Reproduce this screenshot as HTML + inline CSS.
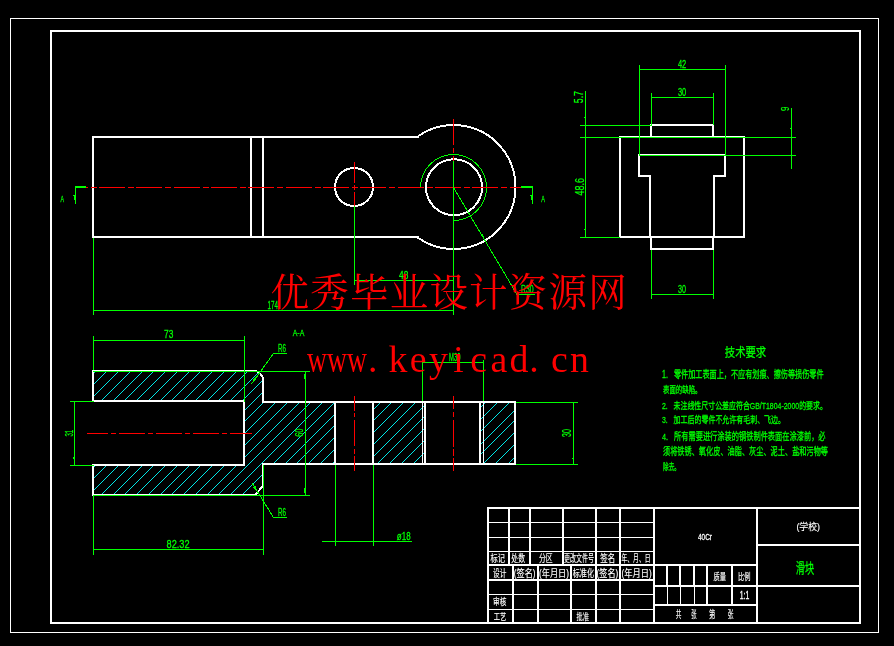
<!DOCTYPE html>
<html><head><meta charset="utf-8"><title>CAD</title>
<style>html,body{margin:0;padding:0;background:#000;overflow:hidden}svg{display:block}text{-webkit-font-smoothing:antialiased}svg{will-change:transform}</style></head>
<body>
<svg width="894" height="646" viewBox="0 0 894 646" shape-rendering="crispEdges">
<rect width="894" height="646" fill="#000"/>
<defs>
<clipPath id="cpA"><path d="M94 372 H254 A8 8 0 0 1 262 380 V403 H334 V463 H262 V486 L255 494 H94 V466 H243 V400 H94 Z"/></clipPath>
<clipPath id="cpB"><path d="M374 403 H424 V463 H374 Z M481 403 H514 V463 H481 Z"/></clipPath>
</defs>
<g clip-path="url(#cpA)" stroke="#0ff" stroke-width="0.9">
<line x1="-68.60" y1="500" x2="71.40" y2="360"/>
<line x1="-56.85" y1="500" x2="83.15" y2="360"/>
<line x1="-45.10" y1="500" x2="94.90" y2="360"/>
<line x1="-33.35" y1="500" x2="106.65" y2="360"/>
<line x1="-21.60" y1="500" x2="118.40" y2="360"/>
<line x1="-9.85" y1="500" x2="130.15" y2="360"/>
<line x1="1.90" y1="500" x2="141.90" y2="360"/>
<line x1="13.65" y1="500" x2="153.65" y2="360"/>
<line x1="25.40" y1="500" x2="165.40" y2="360"/>
<line x1="37.15" y1="500" x2="177.15" y2="360"/>
<line x1="48.90" y1="500" x2="188.90" y2="360"/>
<line x1="60.65" y1="500" x2="200.65" y2="360"/>
<line x1="72.40" y1="500" x2="212.40" y2="360"/>
<line x1="84.15" y1="500" x2="224.15" y2="360"/>
<line x1="95.90" y1="500" x2="235.90" y2="360"/>
<line x1="107.65" y1="500" x2="247.65" y2="360"/>
<line x1="119.40" y1="500" x2="259.40" y2="360"/>
<line x1="131.15" y1="500" x2="271.15" y2="360"/>
<line x1="142.90" y1="500" x2="282.90" y2="360"/>
<line x1="154.65" y1="500" x2="294.65" y2="360"/>
<line x1="166.40" y1="500" x2="306.40" y2="360"/>
<line x1="178.15" y1="500" x2="318.15" y2="360"/>
<line x1="189.90" y1="500" x2="329.90" y2="360"/>
<line x1="201.65" y1="500" x2="341.65" y2="360"/>
<line x1="213.40" y1="500" x2="353.40" y2="360"/>
<line x1="225.15" y1="500" x2="365.15" y2="360"/>
<line x1="236.90" y1="500" x2="376.90" y2="360"/>
<line x1="248.65" y1="500" x2="388.65" y2="360"/>
<line x1="260.40" y1="500" x2="400.40" y2="360"/>
<line x1="272.15" y1="500" x2="412.15" y2="360"/>
<line x1="283.90" y1="500" x2="423.90" y2="360"/>
<line x1="295.65" y1="500" x2="435.65" y2="360"/>
<line x1="307.40" y1="500" x2="447.40" y2="360"/>
<line x1="319.15" y1="500" x2="459.15" y2="360"/>
<line x1="330.90" y1="500" x2="470.90" y2="360"/>
<line x1="342.65" y1="500" x2="482.65" y2="360"/>
</g>
<g clip-path="url(#cpB)" stroke="#0ff" stroke-width="0.9">
<line x1="212.00" y1="500" x2="352.00" y2="360"/>
<line x1="223.75" y1="500" x2="363.75" y2="360"/>
<line x1="235.50" y1="500" x2="375.50" y2="360"/>
<line x1="247.25" y1="500" x2="387.25" y2="360"/>
<line x1="259.00" y1="500" x2="399.00" y2="360"/>
<line x1="270.75" y1="500" x2="410.75" y2="360"/>
<line x1="282.50" y1="500" x2="422.50" y2="360"/>
<line x1="294.25" y1="500" x2="434.25" y2="360"/>
<line x1="306.00" y1="500" x2="446.00" y2="360"/>
<line x1="317.75" y1="500" x2="457.75" y2="360"/>
<line x1="329.50" y1="500" x2="469.50" y2="360"/>
<line x1="341.25" y1="500" x2="481.25" y2="360"/>
<line x1="353.00" y1="500" x2="493.00" y2="360"/>
<line x1="364.75" y1="500" x2="504.75" y2="360"/>
<line x1="376.50" y1="500" x2="516.50" y2="360"/>
<line x1="388.25" y1="500" x2="528.25" y2="360"/>
<line x1="400.00" y1="500" x2="540.00" y2="360"/>
<line x1="411.75" y1="500" x2="551.75" y2="360"/>
<line x1="423.50" y1="500" x2="563.50" y2="360"/>
<line x1="435.25" y1="500" x2="575.25" y2="360"/>
<line x1="447.00" y1="500" x2="587.00" y2="360"/>
<line x1="458.75" y1="500" x2="598.75" y2="360"/>
<line x1="470.50" y1="500" x2="610.50" y2="360"/>
<line x1="482.25" y1="500" x2="622.25" y2="360"/>
<line x1="494.00" y1="500" x2="634.00" y2="360"/>
<line x1="505.75" y1="500" x2="645.75" y2="360"/>
<line x1="517.50" y1="500" x2="657.50" y2="360"/>
<line x1="529.25" y1="500" x2="669.25" y2="360"/>
</g>
<rect x="10" y="18" width="869" height="1" fill="#fff"/>
<rect x="10" y="632" width="869" height="1" fill="#fff"/>
<rect x="10" y="18" width="1" height="615" fill="#fff"/>
<rect x="878" y="18" width="1" height="615" fill="#fff"/>
<rect x="50" y="30" width="811" height="2" fill="#fff"/>
<rect x="50" y="622" width="811" height="2" fill="#fff"/>
<rect x="50" y="30" width="2" height="594" fill="#fff"/>
<rect x="859" y="30" width="2" height="594" fill="#fff"/>
<rect x="92" y="136" width="327" height="2" fill="#fff"/>
<rect x="92" y="236" width="327" height="2" fill="#fff"/>
<rect x="92" y="136" width="2" height="102" fill="#fff"/>
<rect x="250" y="136" width="2" height="102" fill="#fff"/>
<rect x="262" y="136" width="2" height="102" fill="#fff"/>
<path d="M418 136.2 A62 62 0 1 1 418 237.8" fill="none" stroke="#fff" stroke-width="2"/>
<circle cx="354" cy="187" r="19" fill="none" stroke="#fff" stroke-width="2"/>
<circle cx="454" cy="187.2" r="28" fill="none" stroke="#fff" stroke-width="2"/>
<path d="M420.5 187.5 A33 33 0 1 1 453.5 220.5" fill="none" stroke="#0f0" stroke-width="1"/>
<rect x="619" y="136" width="126" height="2" fill="#fff"/>
<rect x="619" y="236" width="126" height="2" fill="#fff"/>
<rect x="619" y="136" width="2" height="102" fill="#fff"/>
<rect x="743" y="136" width="2" height="102" fill="#fff"/>
<rect x="650" y="124" width="64" height="2" fill="#fff"/>
<rect x="650" y="124" width="2" height="14" fill="#fff"/>
<rect x="712" y="124" width="2" height="14" fill="#fff"/>
<rect x="638" y="154" width="88" height="2" fill="#fff"/>
<rect x="638" y="154" width="2" height="23" fill="#fff"/>
<rect x="724" y="154" width="2" height="23" fill="#fff"/>
<rect x="638" y="175" width="13" height="2" fill="#fff"/>
<rect x="713" y="175" width="13" height="2" fill="#fff"/>
<rect x="649" y="175" width="2" height="63" fill="#fff"/>
<rect x="713" y="175" width="2" height="63" fill="#fff"/>
<rect x="650" y="237" width="2" height="13" fill="#fff"/>
<rect x="712" y="237" width="2" height="13" fill="#fff"/>
<rect x="650" y="248" width="64" height="2" fill="#fff"/>
<rect x="92" y="370" width="163" height="2" fill="#fff"/>
<rect x="92" y="400" width="153" height="2" fill="#fff"/>
<rect x="92" y="464" width="153" height="2" fill="#fff"/>
<rect x="92" y="494" width="164" height="2" fill="#fff"/>
<rect x="92" y="370" width="2" height="32" fill="#fff"/>
<rect x="92" y="464" width="2" height="32" fill="#fff"/>
<rect x="243" y="400" width="2" height="66" fill="#fff"/>
<path d="M254 371 A9 9 0 0 1 263 380" fill="none" stroke="#fff" stroke-width="2"/>
<path d="M255 495 L263 486" fill="none" stroke="#fff" stroke-width="2"/>
<rect x="262" y="380" width="2" height="23" fill="#fff"/>
<rect x="262" y="463" width="2" height="24" fill="#fff"/>
<rect x="262" y="401" width="254" height="2" fill="#fff"/>
<rect x="262" y="463" width="254" height="2" fill="#fff"/>
<rect x="514" y="401" width="2" height="64" fill="#fff"/>
<rect x="334" y="401" width="2" height="64" fill="#fff"/>
<rect x="372" y="401" width="2" height="64" fill="#fff"/>
<rect x="422" y="401" width="1" height="64" fill="#fff"/>
<rect x="424" y="401" width="2" height="64" fill="#fff"/>
<rect x="479" y="401" width="2" height="64" fill="#fff"/>
<rect x="483" y="401" width="1" height="64" fill="#fff"/>
<rect x="86" y="187" width="2" height="1" fill="#f00"/>
<rect x="91" y="187" width="6" height="1" fill="#f00"/>
<rect x="99" y="187" width="26" height="1" fill="#f00"/>
<rect x="128" y="187" width="6" height="1" fill="#f00"/>
<rect x="136" y="187" width="26" height="1" fill="#f00"/>
<rect x="165" y="187" width="6" height="1" fill="#f00"/>
<rect x="174" y="187" width="26" height="1" fill="#f00"/>
<rect x="203" y="187" width="6" height="1" fill="#f00"/>
<rect x="211" y="187" width="26" height="1" fill="#f00"/>
<rect x="240" y="187" width="6" height="1" fill="#f00"/>
<rect x="248" y="187" width="26" height="1" fill="#f00"/>
<rect x="277" y="187" width="6" height="1" fill="#f00"/>
<rect x="286" y="187" width="26" height="1" fill="#f00"/>
<rect x="315" y="187" width="6" height="1" fill="#f00"/>
<rect x="323" y="187" width="26" height="1" fill="#f00"/>
<rect x="352" y="187" width="6" height="1" fill="#f00"/>
<rect x="360" y="187" width="26" height="1" fill="#f00"/>
<rect x="389" y="187" width="6" height="1" fill="#f00"/>
<rect x="398" y="187" width="26" height="1" fill="#f00"/>
<rect x="427" y="187" width="6" height="1" fill="#f00"/>
<rect x="435" y="187" width="26" height="1" fill="#f00"/>
<rect x="464" y="187" width="6" height="1" fill="#f00"/>
<rect x="472" y="187" width="26" height="1" fill="#f00"/>
<rect x="501" y="187" width="6" height="1" fill="#f00"/>
<rect x="510" y="187" width="11" height="1" fill="#f00"/>
<rect x="354" y="162" width="1" height="21" fill="#f00"/>
<rect x="354" y="185" width="1" height="5" fill="#f00"/>
<rect x="354" y="192" width="1" height="14" fill="#f00"/>
<rect x="453" y="119" width="1" height="26" fill="#f00"/>
<rect x="453" y="148" width="1" height="5" fill="#f00"/>
<rect x="453" y="156" width="1" height="6" fill="#f00"/>
<rect x="87" y="433" width="21" height="1" fill="#f00"/>
<rect x="111" y="433" width="5" height="1" fill="#f00"/>
<rect x="119" y="433" width="26" height="1" fill="#f00"/>
<rect x="148" y="433" width="5" height="1" fill="#f00"/>
<rect x="156" y="433" width="26" height="1" fill="#f00"/>
<rect x="185" y="433" width="5" height="1" fill="#f00"/>
<rect x="193" y="433" width="26" height="1" fill="#f00"/>
<rect x="222" y="433" width="5" height="1" fill="#f00"/>
<rect x="230" y="433" width="22" height="1" fill="#f00"/>
<rect x="354" y="396" width="1" height="15" fill="#f00"/>
<rect x="354" y="413" width="1" height="4" fill="#f00"/>
<rect x="354" y="420" width="1" height="26" fill="#f00"/>
<rect x="354" y="449" width="1" height="5" fill="#f00"/>
<rect x="354" y="456" width="1" height="15" fill="#f00"/>
<rect x="453" y="396" width="1" height="13" fill="#f00"/>
<rect x="453" y="412" width="1" height="5" fill="#f00"/>
<rect x="453" y="420" width="1" height="27" fill="#f00"/>
<rect x="453" y="449" width="1" height="7" fill="#f00"/>
<rect x="453" y="458" width="1" height="13" fill="#f00"/>
<rect x="75" y="186" width="11" height="2" fill="#0f0"/>
<rect x="75" y="186" width="1" height="18" fill="#0f0"/>
<rect x="74" y="195" width="1" height="5" fill="#0f0"/>
<rect x="73" y="195" width="1" height="1" fill="#0f0"/>
<rect x="521" y="186" width="12" height="2" fill="#0f0"/>
<rect x="532" y="186" width="1" height="18" fill="#0f0"/>
<rect x="531" y="195" width="1" height="5" fill="#0f0"/>
<rect x="530" y="195" width="1" height="1" fill="#0f0"/>
<text x="60.5" y="201.5" font-size="9.29" fill="#0f0" font-family='"Liberation Sans", sans-serif' font-weight="normal" stroke="#0f0" stroke-width="0.3" textLength="3.5" lengthAdjust="spacingAndGlyphs" >A</text>
<text x="541.3" y="201.5" font-size="9.29" fill="#0f0" font-family='"Liberation Sans", sans-serif' font-weight="normal" stroke="#0f0" stroke-width="0.3" textLength="3.7" lengthAdjust="spacingAndGlyphs" >A</text>
<rect x="93" y="238" width="1" height="77" fill="#0f0"/>
<rect x="93" y="310" width="361" height="1" fill="#0f0"/>
<rect x="354" y="206" width="1" height="79" fill="#0f0"/>
<rect x="453" y="161" width="1" height="154" fill="#0f0"/>
<rect x="354" y="280" width="100" height="1" fill="#0f0"/>
<text x="399.0" y="279.3" font-size="10.43" fill="#0f0" font-family='"Liberation Sans", sans-serif' font-weight="normal" stroke="#0f0" stroke-width="0.3" textLength="9.3" lengthAdjust="spacingAndGlyphs" >48</text>
<text x="267.6" y="309.3" font-size="10.43" fill="#0f0" font-family='"Liberation Sans", sans-serif' font-weight="normal" stroke="#0f0" stroke-width="0.3" textLength="10.4" lengthAdjust="spacingAndGlyphs" >174</text>
<line x1="453.5" y1="187.5" x2="517" y2="294.5" stroke="#0f0" stroke-width="1" />
<rect x="517" y="294" width="18" height="1" fill="#0f0"/>
<polygon points="484.3,239.0 480.3,235.0 482.7,233.6" fill="#0f0"/>
<text x="521.0" y="293.0" font-size="10.43" fill="#0f0" font-family='"Liberation Sans", sans-serif' font-weight="normal" stroke="#0f0" stroke-width="0.3" textLength="12.7" lengthAdjust="spacingAndGlyphs" >R30</text>
<rect x="93" y="336" width="1" height="34" fill="#0f0"/>
<rect x="244" y="336" width="1" height="66" fill="#0f0"/>
<rect x="93" y="340" width="152" height="1" fill="#0f0"/>
<text x="164.0" y="337.8" font-size="10.71" fill="#0f0" font-family='"Liberation Sans", sans-serif' font-weight="normal" stroke="#0f0" stroke-width="0.3" textLength="9.3" lengthAdjust="spacingAndGlyphs" >73</text>
<rect x="93" y="371" width="217" height="1" fill="#0f0"/>
<rect x="93" y="495" width="217" height="1" fill="#0f0"/>
<rect x="305" y="371" width="1" height="125" fill="#0f0"/>
<rect x="304" y="374" width="1" height="5" fill="#0f0"/>
<rect x="304" y="488" width="1" height="5" fill="#0f0"/>
<text transform="translate(303.0,436.8) rotate(-90)" font-size="11.43" fill="#0f0" font-family='"Liberation Sans", sans-serif' font-weight="normal" stroke="#0f0" stroke-width="0.3" textLength="8.2" lengthAdjust="spacingAndGlyphs" >60</text>
<rect x="73" y="457" width="1" height="1" fill="#0f0"/>
<rect x="73" y="458" width="1" height="1" fill="#0f0"/>
<rect x="74" y="401" width="1" height="65" fill="#0f0"/>
<rect x="70" y="401" width="24" height="1" fill="#0f0"/>
<rect x="70" y="465" width="24" height="1" fill="#0f0"/>
<text transform="translate(72.5,436.5) rotate(-90)" font-size="10.71" fill="#0f0" font-family='"Liberation Sans", sans-serif' font-weight="normal" stroke="#0f0" stroke-width="0.3" textLength="6.7" lengthAdjust="spacingAndGlyphs" >31</text>
<rect x="93" y="496" width="1" height="59" fill="#0f0"/>
<rect x="263" y="465" width="1" height="90" fill="#0f0"/>
<rect x="93" y="549" width="171" height="1" fill="#0f0"/>
<text x="166.5" y="547.7" font-size="11.43" fill="#0f0" font-family='"Liberation Sans", sans-serif' font-weight="normal" stroke="#0f0" stroke-width="0.3" textLength="23.1" lengthAdjust="spacingAndGlyphs" >82.32</text>
<rect x="335" y="465" width="1" height="81" fill="#0f0"/>
<rect x="373" y="465" width="1" height="81" fill="#0f0"/>
<rect x="322" y="541" width="90" height="1" fill="#0f0"/>
<text x="396.8" y="540.3" font-size="11.43" fill="#0f0" font-family='"Liberation Sans", sans-serif' font-weight="normal" stroke="#0f0" stroke-width="0.3" textLength="13.8" lengthAdjust="spacingAndGlyphs" >ø18</text>
<rect x="422" y="360" width="1" height="41" fill="#0f0"/>
<rect x="483" y="360" width="1" height="41" fill="#0f0"/>
<rect x="422" y="362" width="62" height="1" fill="#0f0"/>
<text x="449.0" y="360.6" font-size="10.29" fill="#0f0" font-family='"Liberation Sans", sans-serif' font-weight="normal" stroke="#0f0" stroke-width="0.3" textLength="11.4" lengthAdjust="spacingAndGlyphs" >M30</text>
<rect x="516" y="402" width="62" height="1" fill="#0f0"/>
<rect x="516" y="464" width="62" height="1" fill="#0f0"/>
<rect x="573" y="402" width="1" height="63" fill="#0f0"/>
<rect x="572" y="458" width="1" height="1" fill="#0f0"/>
<text transform="translate(571.3,437.0) rotate(-90)" font-size="12.14" fill="#0f0" font-family='"Liberation Sans", sans-serif' font-weight="normal" stroke="#0f0" stroke-width="0.3" textLength="7.9" lengthAdjust="spacingAndGlyphs" >30</text>
<rect x="273" y="353" width="14" height="1" fill="#0f0"/>
<line x1="273.5" y1="353.5" x2="251.5" y2="384" stroke="#0f0" stroke-width="1" />
<polygon points="257.5,375.5 255.1,381.2 252.9,379.6" fill="#0f0"/>
<text x="278.0" y="351.9" font-size="11.00" fill="#0f0" font-family='"Liberation Sans", sans-serif' font-weight="normal" stroke="#0f0" stroke-width="0.3" textLength="8.0" lengthAdjust="spacingAndGlyphs" >R6</text>
<rect x="273" y="517" width="14" height="1" fill="#0f0"/>
<line x1="273.5" y1="517.5" x2="251.8" y2="482.5" stroke="#0f0" stroke-width="1" />
<polygon points="257.5,492.0 253.1,487.6 255.5,486.2" fill="#0f0"/>
<text x="278.0" y="515.8" font-size="11.14" fill="#0f0" font-family='"Liberation Sans", sans-serif' font-weight="normal" stroke="#0f0" stroke-width="0.3" textLength="8.0" lengthAdjust="spacingAndGlyphs" >R6</text>
<text x="292.7" y="336.2" font-size="9.71" fill="#0f0" font-family='"Liberation Sans", sans-serif' font-weight="normal" stroke="#0f0" stroke-width="0.3" textLength="11.6" lengthAdjust="spacingAndGlyphs" >A-A</text>
<rect x="639" y="65" width="1" height="91" fill="#0f0"/>
<rect x="725" y="65" width="1" height="91" fill="#0f0"/>
<rect x="639" y="69" width="87" height="1" fill="#0f0"/>
<text x="677.9" y="68.0" font-size="10.71" fill="#0f0" font-family='"Liberation Sans", sans-serif' font-weight="normal" stroke="#0f0" stroke-width="0.3" textLength="8.3" lengthAdjust="spacingAndGlyphs" >42</text>
<rect x="651" y="93" width="1" height="32" fill="#0f0"/>
<rect x="713" y="93" width="1" height="32" fill="#0f0"/>
<rect x="651" y="97" width="63" height="1" fill="#0f0"/>
<text x="677.9" y="96.4" font-size="10.71" fill="#0f0" font-family='"Liberation Sans", sans-serif' font-weight="normal" stroke="#0f0" stroke-width="0.3" textLength="8.3" lengthAdjust="spacingAndGlyphs" >30</text>
<rect x="585" y="91" width="1" height="147" fill="#0f0"/>
<rect x="580" y="125" width="72" height="1" fill="#0f0"/>
<rect x="580" y="137" width="216" height="1" fill="#0f0"/>
<rect x="639" y="155" width="157" height="1" fill="#0f0"/>
<rect x="580" y="237" width="40" height="1" fill="#0f0"/>
<rect x="584" y="117" width="1" height="1" fill="#0f0"/>
<rect x="584" y="229" width="1" height="1" fill="#0f0"/>
<rect x="791" y="108" width="1" height="61" fill="#0f0"/>
<rect x="790" y="128" width="1" height="1" fill="#0f0"/>
<text transform="translate(583.2,103.2) rotate(-90)" font-size="12.00" fill="#0f0" font-family='"Liberation Sans", sans-serif' font-weight="normal" stroke="#0f0" stroke-width="0.3" textLength="12.2" lengthAdjust="spacingAndGlyphs" >5.7</text>
<text transform="translate(583.8,195.5) rotate(-90)" font-size="12.57" fill="#0f0" font-family='"Liberation Sans", sans-serif' font-weight="normal" stroke="#0f0" stroke-width="0.3" textLength="17.5" lengthAdjust="spacingAndGlyphs" >48.6</text>
<text transform="translate(789.0,111.1) rotate(-90)" font-size="11.71" fill="#0f0" font-family='"Liberation Sans", sans-serif' font-weight="normal" stroke="#0f0" stroke-width="0.3" textLength="4.4" lengthAdjust="spacingAndGlyphs" >9</text>
<rect x="651" y="250" width="1" height="49" fill="#0f0"/>
<rect x="713" y="250" width="1" height="49" fill="#0f0"/>
<rect x="651" y="294" width="63" height="1" fill="#0f0"/>
<text x="678.0" y="293.0" font-size="10.86" fill="#0f0" font-family='"Liberation Sans", sans-serif' font-weight="normal" stroke="#0f0" stroke-width="0.3" textLength="8.0" lengthAdjust="spacingAndGlyphs" >30</text>
<rect x="487" y="507" width="374" height="2" fill="#fff"/>
<rect x="487" y="507" width="2" height="116" fill="#fff"/>
<rect x="487" y="522" width="168" height="1" fill="#fff"/>
<rect x="487" y="537" width="168" height="1" fill="#fff"/>
<rect x="487" y="551" width="168" height="1" fill="#fff"/>
<rect x="487" y="564" width="271" height="2" fill="#fff"/>
<rect x="508" y="507" width="2" height="59" fill="#fff"/>
<rect x="529" y="507" width="2" height="59" fill="#fff"/>
<rect x="562" y="507" width="2" height="59" fill="#fff"/>
<rect x="595" y="507" width="2" height="59" fill="#fff"/>
<rect x="619" y="507" width="2" height="59" fill="#fff"/>
<rect x="487" y="579" width="168" height="2" fill="#fff"/>
<rect x="487" y="594" width="168" height="1" fill="#fff"/>
<rect x="487" y="609" width="168" height="1" fill="#fff"/>
<rect x="512" y="565" width="2" height="58" fill="#fff"/>
<rect x="537" y="565" width="2" height="58" fill="#fff"/>
<rect x="570" y="565" width="2" height="58" fill="#fff"/>
<rect x="595" y="565" width="2" height="58" fill="#fff"/>
<rect x="619" y="565" width="2" height="58" fill="#fff"/>
<rect x="653" y="507" width="2" height="116" fill="#fff"/>
<rect x="756" y="507" width="2" height="116" fill="#fff"/>
<rect x="653" y="585" width="208" height="2" fill="#fff"/>
<rect x="653" y="604" width="105" height="2" fill="#fff"/>
<rect x="756" y="544" width="105" height="2" fill="#fff"/>
<rect x="666" y="565" width="2" height="21" fill="#fff"/>
<rect x="679" y="565" width="2" height="21" fill="#fff"/>
<rect x="693" y="565" width="2" height="21" fill="#fff"/>
<rect x="706" y="565" width="2" height="21" fill="#fff"/>
<rect x="731" y="565" width="2" height="21" fill="#fff"/>
<rect x="667" y="586" width="1" height="19" fill="#fff"/>
<rect x="680" y="586" width="1" height="19" fill="#fff"/>
<rect x="694" y="586" width="1" height="19" fill="#fff"/>
<rect x="706" y="586" width="2" height="19" fill="#fff"/>
<rect x="731" y="586" width="2" height="19" fill="#fff"/>
<text x="490.5" y="562.1" font-size="9.78" fill="#fff" font-family='"Liberation Sans", "Noto Sans CJK SC", sans-serif' font-weight="normal" stroke="#fff" stroke-width="0.15" textLength="14.5" lengthAdjust="spacingAndGlyphs">标记</text>
<text x="511.3" y="562.1" font-size="9.78" fill="#fff" font-family='"Liberation Sans", "Noto Sans CJK SC", sans-serif' font-weight="normal" stroke="#fff" stroke-width="0.15" textLength="13.7" lengthAdjust="spacingAndGlyphs">处数</text>
<text x="539.0" y="562.1" font-size="9.78" fill="#fff" font-family='"Liberation Sans", "Noto Sans CJK SC", sans-serif' font-weight="normal" stroke="#fff" stroke-width="0.15" textLength="13.7" lengthAdjust="spacingAndGlyphs">分区</text>
<text x="564.0" y="562.1" font-size="9.78" fill="#fff" font-family='"Liberation Sans", "Noto Sans CJK SC", sans-serif' font-weight="normal" stroke="#fff" stroke-width="0.15" textLength="30.0" lengthAdjust="spacingAndGlyphs">更改文件号</text>
<text x="600.3" y="562.1" font-size="9.78" fill="#fff" font-family='"Liberation Sans", "Noto Sans CJK SC", sans-serif' font-weight="normal" stroke="#fff" stroke-width="0.15" textLength="15.0" lengthAdjust="spacingAndGlyphs">签名</text>
<text x="621.6" y="562.1" font-size="9.78" fill="#fff" font-family='"Liberation Sans", "Noto Sans CJK SC", sans-serif' font-weight="normal" stroke="#fff" stroke-width="0.15" textLength="28.8" lengthAdjust="spacingAndGlyphs">年、月、日</text>
<text x="493.0" y="576.6" font-size="10.00" fill="#fff" font-family='"Liberation Sans", "Noto Sans CJK SC", sans-serif' font-weight="normal" stroke="#fff" stroke-width="0.15" textLength="13.3" lengthAdjust="spacingAndGlyphs">设计</text>
<text x="513.8" y="576.6" font-size="10.00" fill="#fff" font-family='"Liberation Sans", "Noto Sans CJK SC", sans-serif' font-weight="normal" stroke="#fff" stroke-width="0.15" textLength="21.8" lengthAdjust="spacingAndGlyphs">(签名)</text>
<text x="539.0" y="576.6" font-size="10.00" fill="#fff" font-family='"Liberation Sans", "Noto Sans CJK SC", sans-serif' font-weight="normal" stroke="#fff" stroke-width="0.15" textLength="30.0" lengthAdjust="spacingAndGlyphs">(年月日)</text>
<text x="572.7" y="576.6" font-size="10.00" fill="#fff" font-family='"Liberation Sans", "Noto Sans CJK SC", sans-serif' font-weight="normal" stroke="#fff" stroke-width="0.15" textLength="21.3" lengthAdjust="spacingAndGlyphs">标准化</text>
<text x="596.5" y="576.6" font-size="10.00" fill="#fff" font-family='"Liberation Sans", "Noto Sans CJK SC", sans-serif' font-weight="normal" stroke="#fff" stroke-width="0.15" textLength="21.8" lengthAdjust="spacingAndGlyphs">(签名)</text>
<text x="621.6" y="576.6" font-size="10.00" fill="#fff" font-family='"Liberation Sans", "Noto Sans CJK SC", sans-serif' font-weight="normal" stroke="#fff" stroke-width="0.15" textLength="30.1" lengthAdjust="spacingAndGlyphs">(年月日)</text>
<text x="493.0" y="605.2" font-size="9.56" fill="#fff" font-family='"Liberation Sans", "Noto Sans CJK SC", sans-serif' font-weight="normal" stroke="#fff" stroke-width="0.15" textLength="13.3" lengthAdjust="spacingAndGlyphs">审核</text>
<text x="493.8" y="619.8" font-size="8.89" fill="#fff" font-family='"Liberation Sans", "Noto Sans CJK SC", sans-serif' font-weight="normal" stroke="#fff" stroke-width="0.15" textLength="12.5" lengthAdjust="spacingAndGlyphs">工艺</text>
<text x="576.5" y="619.8" font-size="8.89" fill="#fff" font-family='"Liberation Sans", "Noto Sans CJK SC", sans-serif' font-weight="normal" stroke="#fff" stroke-width="0.15" textLength="12.5" lengthAdjust="spacingAndGlyphs">批准</text>
<text x="675.8" y="618.4" font-size="9.78" fill="#fff" font-family='"Liberation Sans", "Noto Sans CJK SC", sans-serif' font-weight="normal" stroke="#fff" stroke-width="0.15" textLength="5.6" lengthAdjust="spacingAndGlyphs">共</text>
<text x="691.2" y="618.4" font-size="9.78" fill="#fff" font-family='"Liberation Sans", "Noto Sans CJK SC", sans-serif' font-weight="normal" stroke="#fff" stroke-width="0.15" textLength="5.3" lengthAdjust="spacingAndGlyphs">张</text>
<text x="709.0" y="618.4" font-size="9.78" fill="#fff" font-family='"Liberation Sans", "Noto Sans CJK SC", sans-serif' font-weight="normal" stroke="#fff" stroke-width="0.15" textLength="6.3" lengthAdjust="spacingAndGlyphs">第</text>
<text x="727.8" y="618.4" font-size="9.78" fill="#fff" font-family='"Liberation Sans", "Noto Sans CJK SC", sans-serif' font-weight="normal" stroke="#fff" stroke-width="0.15" textLength="5.7" lengthAdjust="spacingAndGlyphs">张</text>
<text x="713.4" y="580.2" font-size="9.00" fill="#fff" font-family='"Liberation Sans", "Noto Sans CJK SC", sans-serif' font-weight="normal" stroke="#fff" stroke-width="0.15" textLength="12.6" lengthAdjust="spacingAndGlyphs">质量</text>
<text x="737.9" y="580.2" font-size="9.00" fill="#fff" font-family='"Liberation Sans", "Noto Sans CJK SC", sans-serif' font-weight="normal" stroke="#fff" stroke-width="0.15" textLength="12.5" lengthAdjust="spacingAndGlyphs">比例</text>
<text x="739.7" y="599.0" font-size="10.00" fill="#fff" font-family='"Liberation Sans", sans-serif' font-weight="normal" stroke="#fff" stroke-width="0.3" textLength="9.5" lengthAdjust="spacingAndGlyphs" >1:1</text>
<text x="698.0" y="540.0" font-size="9.71" fill="#fff" font-family='"Liberation Sans", sans-serif' font-weight="normal" stroke="#fff" stroke-width="0.3" textLength="14.0" lengthAdjust="spacingAndGlyphs" >40Cr</text>
<text x="796.4" y="529.9" font-size="9.44" fill="#fff" font-family='"Liberation Sans", "Noto Sans CJK SC", sans-serif' font-weight="normal" stroke="#fff" stroke-width="0.15" textLength="23.6" lengthAdjust="spacingAndGlyphs">(学校)</text>
<text x="795.8" y="572.5" font-size="13.67" fill="#0f0" font-family='"Liberation Sans", "Noto Sans CJK SC", sans-serif' font-weight="normal" stroke="#0f0" stroke-width="0.3" textLength="18.3" lengthAdjust="spacingAndGlyphs">滑块</text>
<text x="724.8" y="357.3" font-size="12.22" fill="#0f0" font-family='"Liberation Sans", "Noto Sans CJK SC", sans-serif' font-weight="normal" stroke="#0f0" stroke-width="0.3" textLength="41.4" lengthAdjust="spacingAndGlyphs">技术要求</text>
<text x="662.0" y="377.6" font-size="10.33" fill="#0f0" font-family='"Liberation Sans", "Noto Sans CJK SC", sans-serif' font-weight="normal" stroke="#0f0" stroke-width="0.3" textLength="161.6" lengthAdjust="spacingAndGlyphs">1.&#160;&#160; 零件加工表面上，不应有划痕、擦伤等损伤零件</text>
<text x="663.0" y="393.4" font-size="9.22" fill="#0f0" font-family='"Liberation Sans", "Noto Sans CJK SC", sans-serif' font-weight="normal" stroke="#0f0" stroke-width="0.3" textLength="38.5" lengthAdjust="spacingAndGlyphs">表面的缺陷。</text>
<text x="662.0" y="408.9" font-size="9.44" fill="#0f0" font-family='"Liberation Sans", "Noto Sans CJK SC", sans-serif' font-weight="normal" stroke="#0f0" stroke-width="0.3" textLength="164.9" lengthAdjust="spacingAndGlyphs">2.&#160;&#160; 未注线性尺寸公差应符合GB/T1804-2000的要求。</text>
<text x="662.0" y="423.4" font-size="9.67" fill="#0f0" font-family='"Liberation Sans", "Noto Sans CJK SC", sans-serif' font-weight="normal" stroke="#0f0" stroke-width="0.3" textLength="123.0" lengthAdjust="spacingAndGlyphs">3.&#160;&#160; 加工后的零件不允许有毛刺、飞边。</text>
<text x="662.0" y="439.8" font-size="9.78" fill="#0f0" font-family='"Liberation Sans", "Noto Sans CJK SC", sans-serif' font-weight="normal" stroke="#0f0" stroke-width="0.3" textLength="163.6" lengthAdjust="spacingAndGlyphs">4.&#160;&#160; 所有需要进行涂装的钢铁制件表面在涂漆前，必</text>
<text x="663.0" y="454.8" font-size="9.78" fill="#0f0" font-family='"Liberation Sans", "Noto Sans CJK SC", sans-serif' font-weight="normal" stroke="#0f0" stroke-width="0.3" textLength="165.0" lengthAdjust="spacingAndGlyphs">须将铁锈、氧化皮、油脂、灰尘、泥土、盐和污物等</text>
<text x="663.0" y="470.0" font-size="9.00" fill="#0f0" font-family='"Liberation Sans", "Noto Sans CJK SC", sans-serif' font-weight="normal" stroke="#0f0" stroke-width="0.3" textLength="17.0" lengthAdjust="spacingAndGlyphs">除去。</text>
<text x="270.6" y="305.7" font-size="38.5" letter-spacing="1.2" fill="#f00" font-family='"Liberation Serif", "Noto Serif CJK SC", serif'>优秀毕业设计资源网</text>
<text y="372.2" font-size="37.8" fill="#f00" font-family='"Liberation Serif", serif'><tspan x="307.1" textLength="59.8" lengthAdjust="spacingAndGlyphs">www</tspan><tspan x="368.1 388.6 409.8 428.9 453.3 470.3 490.4 509.5 529.3 550.9 570.0">.keyicad.cn</tspan></text>
</svg>
</body></html>
